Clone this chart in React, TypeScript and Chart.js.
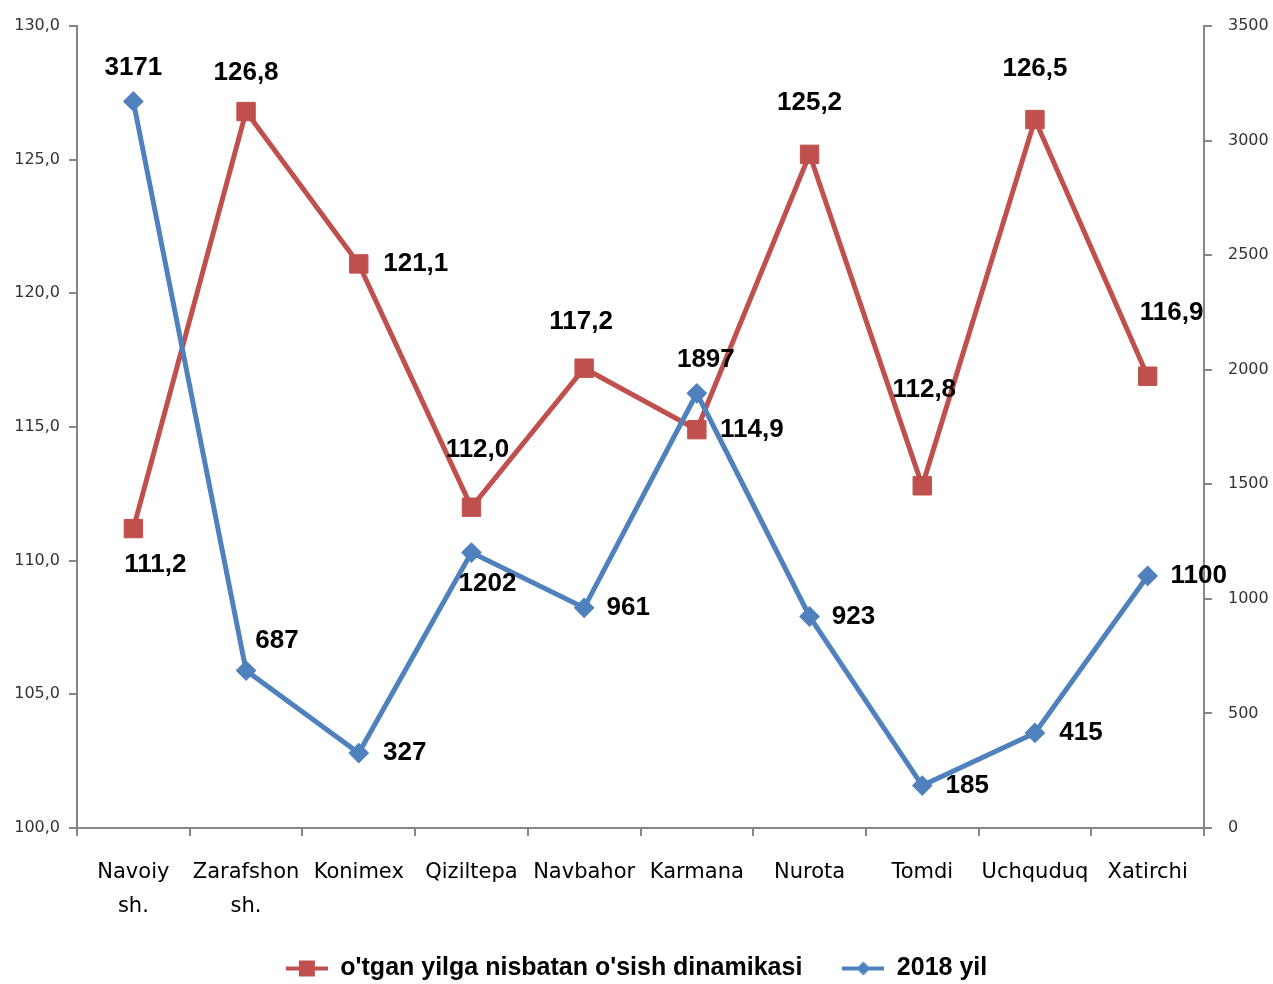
import React, { useEffect, useRef } from 'react';
import { Chart, registerables } from 'chart.js';

Chart.register(...registerables);

const categories: (string | string[])[] = [
  ['Navoiy', 'sh.'],
  ['Zarafshon', 'sh.'],
  'Konimex',
  'Qiziltepa',
  'Navbahor',
  'Karmana',
  'Nurota',
  'Tomdi',
  'Uchquduq',
  'Xatirchi',
];
const growthLabel = "o'tgan yilga nisbatan o'sish dinamikasi";
const growthValues = [111.2, 126.8, 121.1, 112.0, 117.2, 114.9, 125.2, 112.8, 126.5, 116.9];
const yearLabel = '2018 yil';
const yearValues = [3171, 687, 327, 1202, 961, 1897, 923, 185, 415, 1100];

const leftMin = 100;
const leftMax = 130;
const leftStep = 5;
const rightMin = 0;
const rightMax = 3500;
const rightStep = 500;

// label offsets (dx, dy) relative to each point
const growthLabelOffsets: [number, number][] = [
  [22, 36], [0, -39], [57, 0], [6, -57], [-3, -46], [55, 0], [0, -51], [2, -96], [0, -51], [24, -63],
];
const yearLabelOffsets: [number, number][] = [
  [0, -34], [31, -30], [46, 0], [16, 31], [44, 0], [9, -33], [44, 0], [45, 0], [46, 0], [51, 0],
];

const RED = '#C0504D';
const BLUE = '#4F81BD';

function makeIcon(color: string, kind: 'square' | 'diamond'): HTMLCanvasElement {
  const c = document.createElement('canvas');
  c.width = 42;
  c.height = 22;
  const ctx = c.getContext('2d')!;
  ctx.strokeStyle = color;
  ctx.lineWidth = 4;
  ctx.beginPath();
  ctx.moveTo(0, 11);
  ctx.lineTo(42, 11);
  ctx.stroke();
  ctx.fillStyle = color;
  if (kind === 'square') {
    ctx.fillRect(13, 3, 16, 16);
  } else {
    ctx.beginPath();
    ctx.moveTo(21, 4);
    ctx.lineTo(28, 11);
    ctx.lineTo(21, 18);
    ctx.lineTo(14, 11);
    ctx.closePath();
    ctx.fill();
  }
  return c;
}

const fmtComma = (v: number) => v.toFixed(1).replace('.', ',');

const labelPlugin = {
  id: 'pointLabels',
  afterDatasetsDraw(chart: any) {
    const ctx = chart.ctx;
    ctx.save();
    ctx.font = 'bold 26px "Liberation Sans", Arial, sans-serif';
    ctx.fillStyle = '#000';
    ctx.textAlign = 'center';
    ctx.textBaseline = 'middle';
    chart.data.datasets.forEach((ds: any, di: number) => {
      const meta = chart.getDatasetMeta(di);
      const offsets = ds.yAxisID === 'yLeft' ? growthLabelOffsets : yearLabelOffsets;
      meta.data.forEach((pt: any, i: number) => {
        const v = ds.data[i];
        const txt = ds.yAxisID === 'yLeft' ? fmtComma(v) : String(v);
        const [dx, dy] = offsets[i];
        ctx.fillText(txt, pt.x + dx, pt.y + dy);
      });
    });
    ctx.restore();
  },
};

export default function App() {
  const ref = useRef<HTMLCanvasElement | null>(null);
  useEffect(() => {
    document.body.style.margin = '0';
    const canvas = ref.current!;
    const redIcon = makeIcon(RED, 'square');
    const blueIcon = makeIcon(BLUE, 'diamond');
    const chart = new Chart(canvas, {
      type: 'line',
      data: {
        labels: categories as any,
        datasets: [
          {
            label: yearLabel,
            data: yearValues,
            yAxisID: 'yRight',
            borderColor: BLUE,
            backgroundColor: BLUE,
            borderWidth: 5,
            pointStyle: 'rectRot',
            pointRadius: 9,
            pointBorderWidth: 2,
            pointBackgroundColor: BLUE,
            pointBorderColor: BLUE,
            tension: 0,
          },
          {
            label: growthLabel,
            data: growthValues,
            yAxisID: 'yLeft',
            borderColor: RED,
            backgroundColor: RED,
            borderWidth: 5,
            pointStyle: 'rect',
            pointRadius: 13,
            pointBorderWidth: 1,
            pointBackgroundColor: RED,
            pointBorderColor: RED,
            tension: 0,
          },
        ],
      },
      options: {
        responsive: false,
        animation: false,
        layout: { padding: { top: 26, left: 0, right: 0, bottom: -7 } },
        plugins: {
          tooltip: { enabled: false },
          legend: {
            position: 'bottom',
            reverse: true,
            labels: {
              usePointStyle: true,
              boxWidth: 42,
              boxHeight: 22,
              pointStyleWidth: 42,
              padding: 40,
              color: '#000',
              font: { family: '"Liberation Sans", Arial, sans-serif', size: 25, weight: 'bold' },
              generateLabels: (ch: any) =>
                ch.data.datasets.map((ds: any, i: number) => ({
                  text: ds.label,
                  datasetIndex: i,
                  pointStyle: ds.yAxisID === 'yLeft' ? redIcon : blueIcon,
                  fillStyle: ds.borderColor,
                  strokeStyle: ds.borderColor,
                  lineWidth: 0,
                  hidden: false,
                  fontColor: '#000',
                })),
            },
          },
        },
        scales: {
          x: {
            offset: true,
            grid: {
              offset: true,
              drawOnChartArea: false,
              drawTicks: true,
              tickLength: 8,
              color: '#868686',
              lineWidth: 2,
            },
            border: { color: '#868686', width: 2 },
            ticks: {
              color: '#000',
              padding: 20,
              maxRotation: 0,
              autoSkip: false,
              font: { family: '"DejaVu Sans", sans-serif', size: 21, lineHeight: 1.6 },
            },
            afterFit: (s: any) => {
              s.height = 88;
            },
          },
          yLeft: {
            type: 'linear',
            position: 'left',
            min: leftMin,
            max: leftMax,
            grid: {
              drawOnChartArea: false,
              drawTicks: true,
              tickLength: 8,
              color: '#868686',
              lineWidth: 2,
            },
            border: { color: '#868686', width: 2 },
            ticks: {
              stepSize: leftStep,
              padding: 9,
              color: '#333',
              font: { family: '"DejaVu Sans", sans-serif', size: 16 },
              callback: (v: any) => fmtComma(Number(v)),
            },
            afterFit: (s: any) => {
              s.width = 77;
            },
          },
          yRight: {
            type: 'linear',
            position: 'right',
            min: rightMin,
            max: rightMax,
            grid: {
              drawOnChartArea: false,
              drawTicks: true,
              tickLength: 8,
              color: '#868686',
              lineWidth: 2,
            },
            border: { color: '#868686', width: 2 },
            ticks: {
              stepSize: rightStep,
              padding: 16,
              color: '#333',
              font: { family: '"DejaVu Sans", sans-serif', size: 16 },
              callback: (v: any) => String(v),
            },
            afterFit: (s: any) => {
              s.width = 69;
            },
          },
        },
      },
      plugins: [labelPlugin],
    } as any);
    return () => chart.destroy();
  }, []);
  return <canvas ref={ref} width={1273} height={984} style={{ display: 'block', width: 1273, height: 984 }} />;
}
